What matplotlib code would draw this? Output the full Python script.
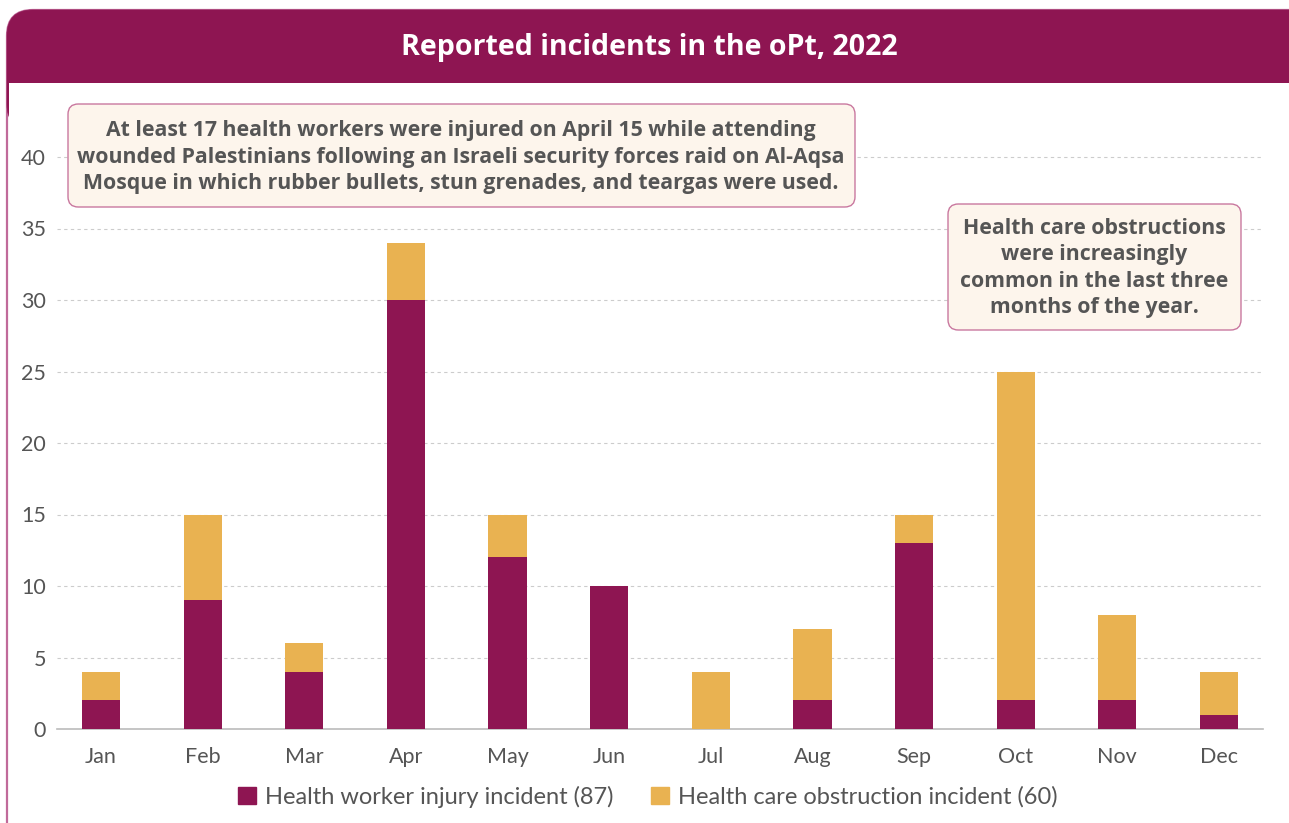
import matplotlib
matplotlib.use("Agg")
import matplotlib.pyplot as plt
from matplotlib.patches import FancyBboxPatch, Rectangle
import numpy as np

months = ["Jan", "Feb", "Mar", "Apr", "May", "Jun", "Jul", "Aug", "Sep", "Oct", "Nov", "Dec"]
injury = [2, 9, 4, 30, 12, 10, 0, 2, 13, 2, 2, 1]
obstruction = [2, 6, 2, 4, 3, 0, 4, 5, 2, 23, 6, 3]
yticks = [0, 5, 10, 15, 20, 25, 30, 35, 40]
title = "Reported incidents in the oPt, 2022"
legend_labels = ["Health worker injury incident (87)", "Health care obstruction incident (60)"]
note1 = ("At least 17 health workers were injured on April 15 while attending\n"
         "wounded Palestinians following an Israeli security forces raid on Al-Aqsa\n"
         "Mosque in which rubber bullets, stun grenades, and teargas were used.")
note2 = ("Health care obstructions\nwere increasingly\ncommon in the last three\nmonths of the year.")

MAROON = "#8E1552"
GOLD = "#E9B251"
PINK = "#C06A9A"
TXT = "#555555"
FONT = ["Lato", "DejaVu Sans"]
BFONT = ["Open Sans", "DejaVu Sans"]

W, H = 1289, 823
fig = plt.figure(figsize=(W / 100, H / 100), dpi=100)
fig.patch.set_facecolor("white")

def fx(x):
    return x / W

def fy(y):
    return 1 - y / H

# frame
frame = FancyBboxPatch((fx(7), fy(900)), fx(1400 - 7), 890 / H,
                       boxstyle="round,pad=0,rounding_size=0.02",
                       transform=fig.transFigure, facecolor="white",
                       edgecolor=PINK, lw=1.6, zorder=-3, mutation_aspect=W / H)
fig.add_artist(frame)
header = FancyBboxPatch((fx(7), fy(130)), fx(1400 - 7), 120 / H,
                        boxstyle="round,pad=0,rounding_size=0.02",
                        transform=fig.transFigure, facecolor=MAROON,
                        edgecolor=MAROON, lw=0.5, zorder=-2, mutation_aspect=W / H)
fig.add_artist(header)
cover = Rectangle((fx(8.5), fy(H + 5)), fx(W), (H + 5 - 82.5) / H,
                  transform=fig.transFigure, facecolor="white", edgecolor="none", zorder=-1)
fig.add_artist(cover)
fig.text(fx(649), fy(47), title, color="white", fontsize=20.6, fontweight="bold",
         family=BFONT, ha="center", va="center")

# axes
ppu = (729 - 157) / 40.0
ymax = 43
ax = fig.add_axes([fx(57), fy(729), fx(1263 - 57), ymax * ppu / H])
ax.set_facecolor("none")
x = np.arange(len(months))
bw = 0.375
ax.bar(x, injury, width=bw, color=MAROON, zorder=3)
ax.bar(x, obstruction, width=bw, bottom=injury, color=GOLD, zorder=3)
spacing = (1219 - 101) / 11
ax.set_xlim(-(101 - 57) / spacing, 11 + (1263 - 1219) / spacing)
ax.set_ylim(0, ymax)
ax.set_yticks(yticks)
ax.set_xticks(x)
ax.set_xticklabels(months)
for s in ["top", "right", "left"]:
    ax.spines[s].set_visible(False)
ax.spines["bottom"].set_color("#BBBBBB")
ax.spines["bottom"].set_linewidth(1.2)
ax.tick_params(axis="both", length=0, labelsize=15.5, labelcolor=TXT)
ax.tick_params(axis="x", pad=13)
ax.tick_params(axis="y", pad=8)
for lab in ax.get_xticklabels() + ax.get_yticklabels():
    lab.set_family(FONT)
for t in yticks[1:]:
    ax.axhline(t, color="#CCCCCC", lw=0.8, ls=(0, (3, 3)), zorder=1)

# legend
handles = [Rectangle((0, 0), 1, 1, color=MAROON), Rectangle((0, 0), 1, 1, color=GOLD)]
fig.legend(handles, legend_labels, loc="center", bbox_to_anchor=(fx(648), fy(797)),
           ncol=2, frameon=False, prop={"family": FONT, "size": 17},
           labelcolor=TXT, handlelength=0.75, handleheight=0.75, handletextpad=0.4,
           columnspacing=1.6)

# annotation boxes
def note(x0, y0, x1, y1, text, cx, cy, fs):
    box = FancyBboxPatch((fx(x0), fy(y1)), fx(x1 - x0), (y1 - y0) / H,
                         boxstyle="round,pad=0,rounding_size=0.008",
                         transform=fig.transFigure, facecolor="#FDF5EC",
                         edgecolor="#C9789F", lw=1.0, zorder=5, mutation_aspect=W / H)
    fig.add_artist(box)
    fig.text(fx(cx), fy(cy), text, ha="center", va="center", color=TXT,
             fontsize=fs, fontweight="bold", family=BFONT, linespacing=1.33, zorder=6)

note(68, 104, 855, 207, note1, 461, 157, 15.3)
note(948, 204, 1241, 330, note2, 1094, 268, 15.3)

fig.savefig("out.png", dpi=100)
